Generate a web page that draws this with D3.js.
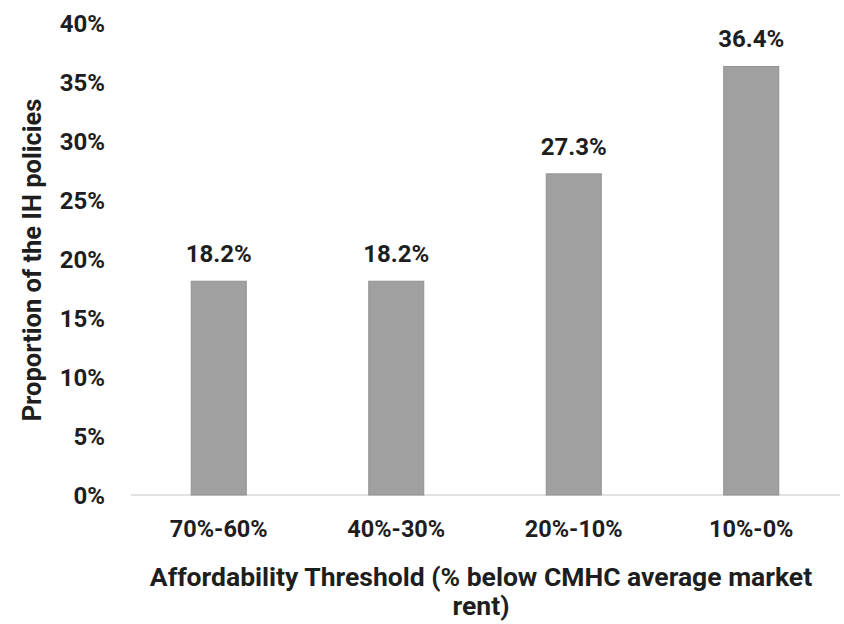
<!DOCTYPE html>
<html>
<head>
<meta charset="utf-8">
<script src="https://cdn.jsdelivr.net/npm/d3@7"></script>
<style>
  html, body { margin: 0; padding: 0; background: #fff; }
  svg { display: block; }
  text { font-family: Roboto, "Noto Sans", sans-serif; font-weight: 700; fill: #1e1e1e; }
</style>
</head>
<body>
<div id="chart"></div>
<script>
// Share of inclusionary-housing policies by affordability threshold
const categories = ["70%-60%", "40%-30%", "20%-10%", "10%-0%"];
const shares = [18.2, 18.2, 27.3, 36.4];
const yTicks = [0, 5, 10, 15, 20, 25, 30, 35, 40];
const xTitleLines = ["Affordability Threshold (% below CMHC average market", "rent)"];
const yTitle = "Proportion of the IH policies";

const width = 844, height = 624;
const sansFont = "'Liberation Sans', Arial, sans-serif";
const roboFont = "Roboto, sans-serif";

const svg = d3.select("#chart").append("svg")
  .attr("width", width)
  .attr("height", height);

const x = d3.scaleBand()
  .domain(categories)
  .range([130, 840])
  .paddingInner(0.69)
  .paddingOuter(0.345);

const y = d3.scaleLinear()
  .domain([0, 40])
  .range([496, 24]);

// baseline
svg.append("line")
  .attr("x1", 131).attr("x2", 840)
  .attr("y1", y(0) - 1).attr("y2", y(0) - 1)
  .attr("stroke", "#e2e2e2")
  .attr("stroke-width", 2);

// y axis tick labels
const yAxis = d3.axisLeft(y)
  .tickValues(yTicks)
  .tickFormat(d => d + "%")
  .tickSize(0)
  .tickPadding(0);

const gy = svg.append("g")
  .attr("transform", "translate(105,0)")
  .call(yAxis);
gy.select(".domain").remove();
gy.selectAll("text")
  .attr("font-size", 24)
  .attr("font-family", sansFont)
  .attr("font-weight", 700)
  .attr("fill", "#1e1e1e");

// bars
svg.append("g").selectAll("rect")
  .data(shares)
  .join("rect")
  .attr("x", (d, i) => x(categories[i]))
  .attr("width", x.bandwidth())
  .attr("y", d => y(d))
  .attr("height", d => y(0) - y(d) - 1)
  .attr("fill", "#a0a0a0")
  .attr("stroke", "#929292")
  .attr("stroke-width", 1);

// value labels
svg.append("g").selectAll("text")
  .data(shares)
  .join("text")
  .attr("x", (d, i) => x(categories[i]) + x.bandwidth() / 2)
  .attr("y", d => y(d) - 19)
  .attr("text-anchor", "middle")
  .attr("font-family", sansFont)
  .attr("font-size", 24)
  .text(d => d.toFixed(1) + "%");

// x axis category labels
const xAxis = d3.axisBottom(x).tickSize(0).tickPadding(0);
const gx = svg.append("g")
  .attr("transform", "translate(0,537)")
  .call(xAxis);
gx.select(".domain").remove();
gx.selectAll("text")
  .attr("dy", 0)
  .attr("font-size", 23.5)
  .attr("font-family", roboFont)
  .attr("font-weight", 700)
  .attr("fill", "#1e1e1e");

// x axis title
svg.append("g").selectAll("text")
  .data(xTitleLines)
  .join("text")
  .attr("x", 481)
  .attr("y", (d, i) => 586 + i * 29)
  .attr("text-anchor", "middle")
  .attr("font-family", roboFont)
  .attr("font-size", 26.5)
  .text(d => d);

// y axis title
svg.append("text")
  .attr("transform", "translate(41,260) rotate(-90)")
  .attr("text-anchor", "middle")
  .attr("font-family", sansFont)
  .attr("font-size", 25.5)
  .text(yTitle);
</script>
</body>
</html>
